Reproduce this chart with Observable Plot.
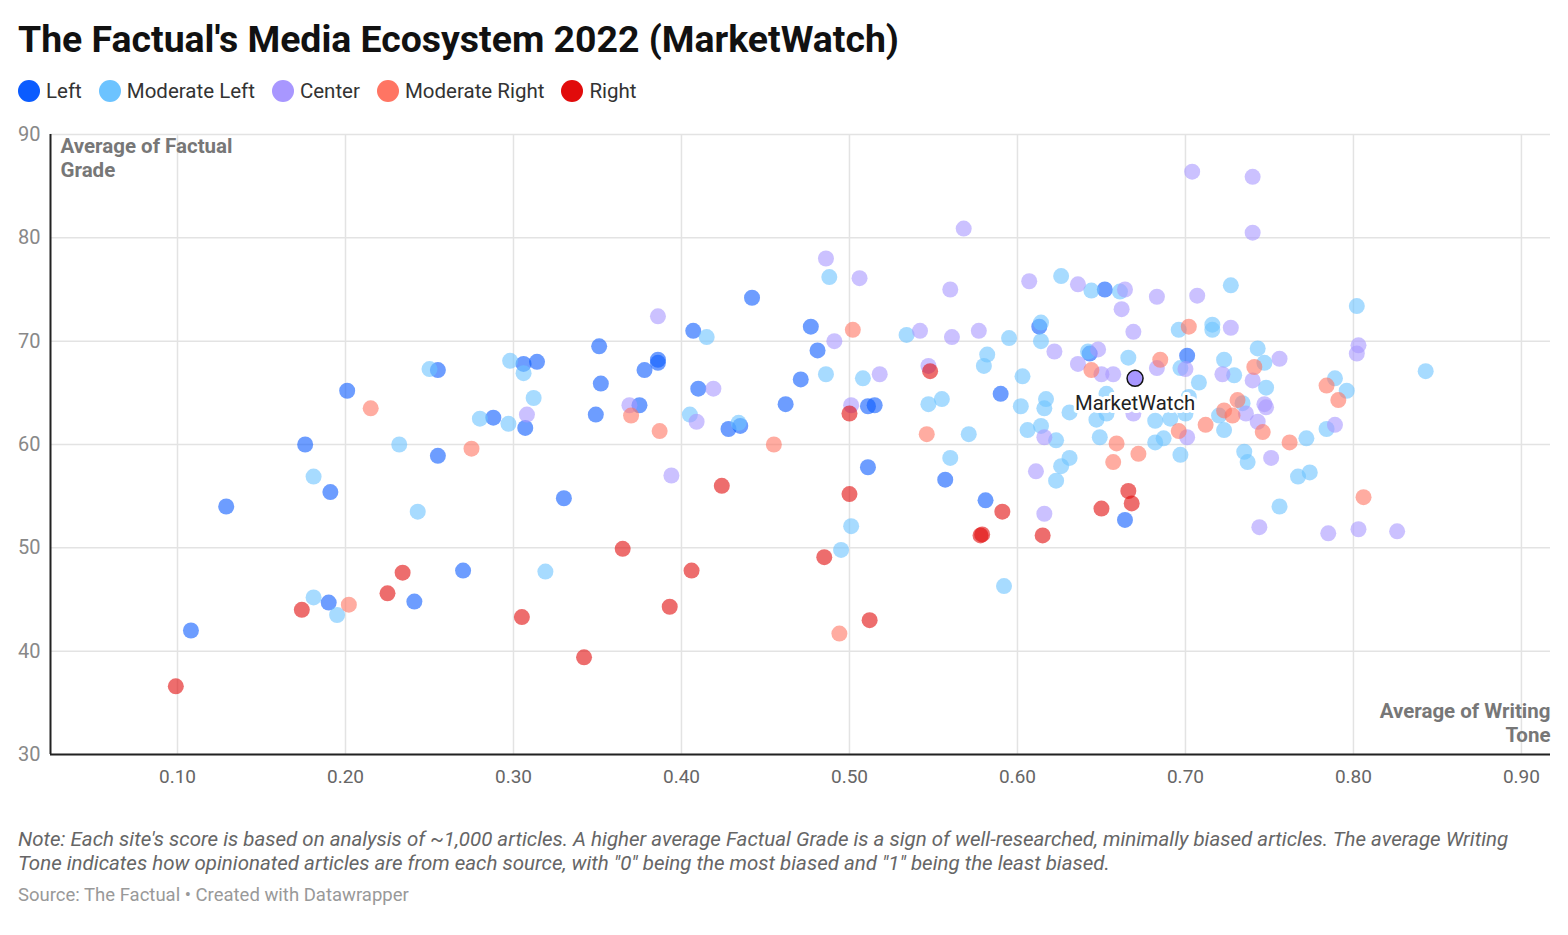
<!DOCTYPE html>
<html>
<head>
<meta charset="utf-8">
<script src="https://cdn.jsdelivr.net/npm/d3@7"></script>
<script src="https://cdn.jsdelivr.net/npm/@observablehq/plot@0.6"></script>
<style>
  html, body { margin: 0; padding: 0; background: #fff; }
  body { width: 1568px; height: 935px; position: relative; font-family: Roboto, "Noto Sans", sans-serif; overflow: hidden; }
  #title { position: absolute; left: 18px; top: 18px; font-size: 37.4px; font-weight: 700; line-height: 42px; color: #111; white-space: nowrap; }
  #legend { position: absolute; left: 18px; top: 79px; height: 24px; display: flex; align-items: center; font-size: 20.5px; color: #333; white-space: nowrap; }
  .item { display: flex; align-items: center; margin-right: 17px; }
  .sw { width: 22px; height: 22px; border-radius: 50%; margin-right: 6px; }
  #chart { position: absolute; left: 0; top: 120px; }
  #note { position: absolute; left: 18px; top: 828px; font-size: 20.5px; font-style: italic; line-height: 23.5px; color: #666; white-space: nowrap; }
  #source { position: absolute; left: 18px; top: 884px; font-size: 18.5px; line-height: 22px; color: #999; white-space: nowrap; }
</style>
</head>
<body>
<div id="title"></div>
<div id="legend"></div>
<div id="chart"></div>
<div id="note"></div>
<div id="source"></div>
<script>
const titleText = "The Factual's Media Ecosystem 2022 (MarketWatch)";
const noteLines = [
  "Note: Each site's score is based on analysis of ~1,000 articles. A higher average Factual Grade is a sign of well-researched, minimally biased articles. The average Writing",
  "Tone indicates how opinionated articles are from each source, with \"0\" being the most biased and \"1\" being the least biased."
];
const sourceText = "Source: The Factual \u2022 Created with Datawrapper";
const yTitle = "Average of Factual\nGrade";
const xTitle = "Average of Writing\nTone";

const categories = ["Left", "Moderate Left", "Center", "Moderate Right", "Right"];
const colors = ["#0b5cff", "#6cc3ff", "#a897ff", "#ff7563", "#e10b0b"];

const xTicks = [0.1, 0.2, 0.3, 0.4, 0.5, 0.6, 0.7, 0.8, 0.9];
const yTicks = [30, 40, 50, 60, 70, 80, 90];
const xDomain = [0.0244, 0.9173];
const yDomain = [30, 90];

// [writing tone, factual grade]
const left = [[0.108,42.0],[0.129,54.0],[0.176,60.0],[0.191,55.4],[0.190,44.7],[0.201,65.2],[0.241,44.8],[0.255,67.2],[0.255,58.9],[0.270,47.8],[0.288,62.6],[0.306,67.8],[0.307,61.6],[0.314,68.0],[0.330,54.8],[0.351,69.5],[0.352,65.9],[0.349,62.9],[0.375,63.8],[0.378,67.2],[0.386,68.2],[0.386,67.9],[0.407,71.0],[0.410,65.4],[0.428,61.5],[0.435,61.8],[0.442,74.2],[0.462,63.9],[0.471,66.3],[0.477,71.4],[0.481,69.1],[0.511,63.7],[0.515,63.8],[0.511,57.8],[0.557,56.6],[0.581,54.6],[0.590,64.9],[0.613,71.4],[0.643,68.8],[0.652,75.0],[0.701,68.6],[0.664,52.7]];
const moderateLeft = [[0.181,56.9],[0.181,45.2],[0.195,43.5],[0.232,60.0],[0.243,53.5],[0.250,67.3],[0.280,62.5],[0.297,62.0],[0.298,68.1],[0.306,66.9],[0.312,64.5],[0.319,47.7],[0.405,62.9],[0.415,70.4],[0.434,62.1],[0.486,66.8],[0.488,76.2],[0.495,49.8],[0.501,52.1],[0.508,66.4],[0.534,70.6],[0.547,63.9],[0.555,64.4],[0.560,58.7],[0.571,61.0],[0.580,67.6],[0.582,68.7],[0.592,46.3],[0.595,70.3],[0.602,63.7],[0.603,66.6],[0.606,61.4],[0.614,71.8],[0.614,70.0],[0.614,61.8],[0.616,63.5],[0.617,64.4],[0.623,60.4],[0.623,56.5],[0.626,57.9],[0.626,76.3],[0.631,63.1],[0.631,58.7],[0.642,69.0],[0.644,74.9],[0.647,62.4],[0.649,60.7],[0.653,64.9],[0.653,63.0],[0.661,74.8],[0.666,68.4],[0.682,62.3],[0.682,60.2],[0.687,60.6],[0.691,62.5],[0.696,71.1],[0.697,67.4],[0.697,59.0],[0.700,63.0],[0.702,64.6],[0.708,66.0],[0.716,71.6],[0.716,71.1],[0.720,62.8],[0.723,68.2],[0.723,61.4],[0.727,75.4],[0.729,66.7],[0.734,64.0],[0.735,59.3],[0.737,58.3],[0.743,69.3],[0.747,67.9],[0.748,65.5],[0.756,54.0],[0.767,56.9],[0.772,60.6],[0.774,57.3],[0.784,61.5],[0.789,66.4],[0.796,65.2],[0.802,73.4],[0.843,67.1]];
const center = [[0.308,62.9],[0.369,63.8],[0.386,72.4],[0.394,57.0],[0.409,62.2],[0.419,65.4],[0.486,78.0],[0.491,70.0],[0.501,63.8],[0.506,76.1],[0.518,66.8],[0.542,71.0],[0.547,67.6],[0.560,75.0],[0.561,70.4],[0.568,80.9],[0.577,71.0],[0.607,75.8],[0.611,57.4],[0.616,60.7],[0.616,53.3],[0.622,69.0],[0.636,75.5],[0.636,67.8],[0.648,69.2],[0.650,66.8],[0.657,66.8],[0.662,73.1],[0.664,75.0],[0.669,70.9],[0.669,63.0],[0.683,74.3],[0.683,67.4],[0.700,67.3],[0.701,60.7],[0.704,86.4],[0.707,74.4],[0.722,66.8],[0.727,71.3],[0.736,63.0],[0.740,85.9],[0.740,80.5],[0.740,66.2],[0.743,62.2],[0.744,52.0],[0.747,63.9],[0.748,63.6],[0.751,58.7],[0.756,68.3],[0.785,51.4],[0.789,61.9],[0.802,68.8],[0.803,69.6],[0.803,51.8],[0.826,51.6]];
const moderateRight = [[0.202,44.5],[0.215,63.5],[0.275,59.6],[0.370,62.8],[0.387,61.3],[0.455,60.0],[0.494,41.7],[0.502,71.1],[0.546,61.0],[0.644,67.2],[0.657,58.3],[0.659,60.1],[0.672,59.1],[0.685,68.2],[0.696,61.3],[0.702,71.4],[0.712,61.9],[0.723,63.3],[0.728,62.8],[0.731,64.3],[0.741,67.5],[0.746,61.2],[0.762,60.2],[0.784,65.7],[0.791,64.3],[0.806,54.9]];
const right = [[0.099,36.6],[0.174,44.0],[0.225,45.6],[0.234,47.6],[0.305,43.3],[0.342,39.4],[0.365,49.9],[0.393,44.3],[0.406,47.8],[0.424,56.0],[0.485,49.1],[0.500,63.0],[0.500,55.2],[0.512,43.0],[0.548,67.1],[0.578,51.2],[0.579,51.3],[0.591,53.5],[0.615,51.2],[0.650,53.8],[0.666,55.5],[0.668,54.3]];
const highlight = [{name: "MarketWatch", category: "Center", x: 0.670, y: 66.4}];

const series = [left, moderateLeft, center, moderateRight, right];
const data = series.flatMap((pts, i) => pts.map(([x, y]) => ({x, y, category: categories[i]})));

document.getElementById("title").textContent = titleText;
const legend = document.getElementById("legend");
categories.forEach((c, i) => {
  const item = document.createElement("div"); item.className = "item";
  const sw = document.createElement("div"); sw.className = "sw"; sw.style.background = colors[i];
  const t = document.createElement("span"); t.textContent = c;
  item.appendChild(sw); item.appendChild(t); legend.appendChild(item);
});
const note = document.getElementById("note");
noteLines.forEach((l, i) => { if (i) note.appendChild(document.createElement("br")); note.appendChild(document.createTextNode(l)); });
document.getElementById("source").textContent = sourceText;

const chart = Plot.plot({
  width: 1568, height: 674,
  marginTop: 14, marginBottom: 40, marginLeft: 50, marginRight: 18,
  style: {fontFamily: "Roboto, sans-serif", background: "white"},
  x: {domain: xDomain, label: null},
  y: {domain: yDomain, label: null},
  color: {domain: categories, range: colors},
  marks: [
    Plot.gridX(xTicks, {stroke: "#e3e3e3", strokeOpacity: 1, strokeWidth: 1.5}),
    Plot.gridY(yTicks, {stroke: "#e3e3e3", strokeOpacity: 1, strokeWidth: 1.5}),
    Plot.axisX(xTicks, {tickSize: 0, tickPadding: 15, fontSize: 19, fill: "#666", tickFormat: d => d.toFixed(2), label: null}),
    Plot.axisY(yTicks, {tickSize: 0, tickPadding: 10, fontSize: 20, fill: "#888", label: null}),
    Plot.ruleY([yDomain[0]], {stroke: "#222", strokeWidth: 2}),
    Plot.ruleX([xDomain[0]], {stroke: "#222", strokeWidth: 2}),
    Plot.text([yTitle], {frameAnchor: "top-left", dx: 10, dy: 1, lineAnchor: "top", textAnchor: "start", fontSize: 20.5, fontWeight: "bold", fill: "#777", lineHeight: 1.17}),
    Plot.text([xTitle], {frameAnchor: "bottom-right", dx: 0, dy: -13, lineAnchor: "bottom", textAnchor: "end", fontSize: 20.5, fontWeight: "bold", fill: "#777", lineHeight: 1.17}),
    Plot.dot(data, {x: "x", y: "y", fill: "category", r: 8, fillOpacity: 0.6}),
    Plot.dot(highlight, {x: "x", y: "y", fill: "category", r: 8, stroke: "#111", strokeWidth: 1.5}),
    Plot.text(highlight, {x: "x", y: "y", text: "name", dy: 25, fontSize: 20.3, fill: "#222", stroke: "white", strokeWidth: 6})
  ]
});
document.getElementById("chart").appendChild(chart);
</script>
</body>
</html>
